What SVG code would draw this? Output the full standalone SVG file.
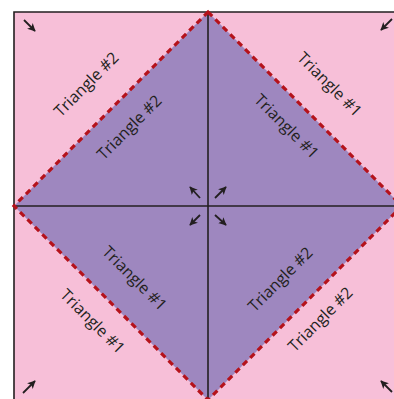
<svg xmlns="http://www.w3.org/2000/svg" width="394" height="399" viewBox="0 0 394 399">
<defs>
<marker id="ah" viewBox="0 0 10 10" refX="9" refY="5" markerWidth="8" markerHeight="8" orient="auto" markerUnits="userSpaceOnUse">
<path d="M0,0 L10,5 L0,10 L2.5,5 Z" fill="#231f20"/>
</marker>
<style>
.lbl{font-family:"Open Sans","Noto Sans",sans-serif;font-size:16px;fill:#231f20;text-anchor:middle;dominant-baseline:central}
.ax{stroke:#231f20;stroke-width:1.6;fill:none}
.arr{stroke:#231f20;stroke-width:1.8;fill:none;marker-end:url(#ah)}
.dash{stroke:#b5121b;stroke-width:3.2;stroke-dasharray:6 4.5;fill:none}
</style>
</defs>
<rect x="0" y="0" width="394" height="399" fill="#ffffff"/>
<g id="square">
<rect x="14" y="12" width="388" height="388" fill="#f7bfd8"/>
<path d="M14,400 L14,12 L402,12" class="ax"/>
</g>
<g id="diamond">
<polygon points="208,12 402,206 208,400 14,206" fill="#9e87bf"/>
</g>
<g id="connectors">
<line x1="208" y1="12" x2="208" y2="400" class="ax"/>
<line x1="14" y1="206" x2="402" y2="206" class="ax"/>
<polygon points="208,12 402,206 208,400 14,206" class="dash"/>
<line x1="24" y1="20" x2="35" y2="31" class="arr"/>
<line x1="392" y1="19" x2="381" y2="30" class="arr"/>
<line x1="23" y1="393" x2="35" y2="381" class="arr"/>
<line x1="392" y1="392" x2="381" y2="381" class="arr"/>
<line x1="200" y1="198" x2="190" y2="187" class="arr"/>
<line x1="215" y1="198" x2="226" y2="187" class="arr"/>
<line x1="200" y1="215" x2="190" y2="225" class="arr"/>
<line x1="215" y1="215" x2="226" y2="225" class="arr"/>
</g>
<g id="labels">
<text class="lbl" transform="translate(86,84) rotate(-45)">Triangle #2</text>
<text class="lbl" transform="translate(129,127) rotate(-45)">Triangle #2</text>
<text class="lbl" transform="translate(330,84) rotate(45)">Triangle #1</text>
<text class="lbl" transform="translate(287,126) rotate(45)">Triangle #1</text>
<text class="lbl" transform="translate(135,278) rotate(45)">Triangle #1</text>
<text class="lbl" transform="translate(93,321) rotate(45)">Triangle #1</text>
<text class="lbl" transform="translate(280,279) rotate(-45)">Triangle #2</text>
<text class="lbl" transform="translate(320,319) rotate(-45)">Triangle #2</text>
</g>
</svg>
